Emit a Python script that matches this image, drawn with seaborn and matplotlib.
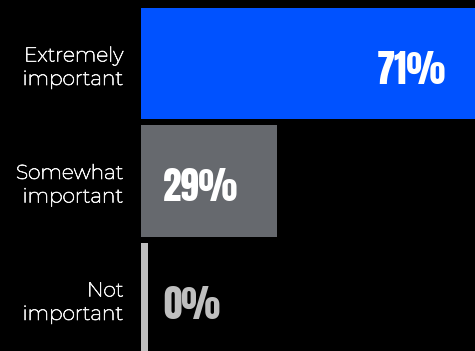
import matplotlib
matplotlib.use("Agg")
import matplotlib.pyplot as plt
import matplotlib.patheffects as pe
import seaborn as sns
import pandas as pd

categories = ["Extremely\nimportant", "Somewhat\nimportant", "Not\nimportant"]
values = [71, 29, 0]
labels = ["71%", "29%", "0%"]

bar_colors = ["#0052ff", "#66696e", "#bfbfbf"]
text_colors = ["#ffffff", "#ffffff", "#bfbfbf"]

sns.set_style("dark")
plt.rcParams["font.family"] = ["Montserrat", "DejaVu Sans"]
num_family = ["Anton", "DejaVu Sans"]

min_w = 1.5  # minimal visible bar width (style)
df = pd.DataFrame({
    "category": categories,
    "shown": [max(v, min_w) for v in values],
})

fig = plt.figure(figsize=(4.75, 3.51), dpi=100, facecolor="black")
ax = fig.add_axes([141 / 475, 0, 334 / 475, 343 / 351])
ax.set_facecolor("black")

sns.barplot(data=df, x="shown", y="category", hue="category",
            palette=dict(zip(categories, bar_colors)), orient="h",
            width=0.945, legend=False, ax=ax, saturation=1, linewidth=0)

ax.set_xlim(0, 71)
ax.set_ylim(2.447, -0.4725)
ax.set_xlabel("")
ax.set_ylabel("")
ax.set_xticks([])
ax.grid(False)
for s in ax.spines.values():
    s.set_visible(False)
ax.tick_params(axis="y", length=0, pad=12.5, labelsize=14.5, labelcolor="#f2f2f2")
for t in ax.get_yticklabels():
    t.set_linespacing(1.3)
    t.set_path_effects([pe.withStroke(linewidth=0.55, foreground="#f2f2f2")])

for i, (v, lab, c) in enumerate(zip(values, labels, text_colors)):
    if v > 50:
        ax.annotate(lab, xy=(v, i), xytext=(-20.9, -4.5), textcoords="offset points",
                    ha="right", va="center", color=c, fontsize=26.5,
                    family=num_family)
    else:
        ax.annotate(lab, xy=(0, i), xytext=(15.8, -4.5), textcoords="offset points",
                    ha="left", va="center", color=c, fontsize=26.5,
                    family=num_family)

fig.savefig("out.png", dpi=100, facecolor="black")
